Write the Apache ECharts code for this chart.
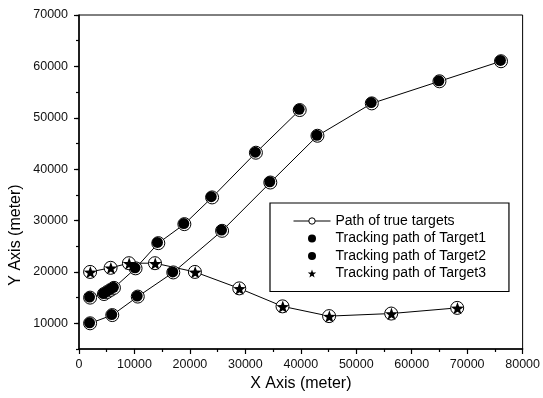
<!DOCTYPE html>
<html>
<head>
<meta charset="utf-8">
<script src="https://cdn.jsdelivr.net/npm/echarts@6/dist/echarts.min.js"></script>
<style>
html,body{margin:0;padding:0;background:#fff;}
#main{width:543px;height:398px;}
</style>
</head>
<body>
<div id="main"></div>
<script>
// ---- data ----
var xTicks = [0, 10000, 20000, 30000, 40000, 50000, 60000, 70000, 80000];
var yTicks = [10000, 20000, 30000, 40000, 50000, 60000, 70000];

// true target paths
var trueX1 = [2000, 4500, 5100, 5700, 6300, 10200, 14300, 19000, 24000, 31900, 39800];
var trueY1 = [15000, 15700, 16100, 16500, 16900, 20700, 25600, 29300, 34500, 43200, 51500];
var trueX2 = [2000, 6000, 10600, 17000, 25800, 34500, 43000, 52800, 65000, 76100];
var trueY2 = [10000, 11600, 15200, 19900, 28000, 37400, 46500, 52800, 57100, 61000];
var trueX3 = [2000, 5700, 9000, 13700, 20900, 28900, 36700, 45100, 56300, 68200];
var trueY3 = [20000, 20800, 21700, 21700, 20000, 16800, 13300, 11400, 11900, 13000];

// tracking estimates
var track1X = [1900, 4400, 5000, 5600, 6200, 10100, 14150, 18900, 23850, 31800, 39700];
var track1Y = [15100, 15800, 16200, 16600, 17000, 20800, 25750, 29400, 34650, 43300, 51650];
var track2X = [1900, 5900, 10500, 16900, 25700, 34400, 42900, 52700, 64900, 76000];
var track2Y = [10100, 11700, 15300, 20000, 28150, 37550, 46600, 52950, 57200, 61150];
var track3X = [2050, 5750, 9050, 13750, 20950, 28950, 36750, 45150, 56350, 68250];
var track3Y = [19950, 20750, 21650, 21650, 19950, 16750, 13250, 11350, 11850, 12950];

function pairs(xs, ys) { return xs.map(function (x, i) { return [x, ys[i]]; }); }
function plain(v) { return String(v); }

var FONT = '"Liberation Sans", Arial, sans-serif';
var STAR = 'path://M0,-10L2.35,-3.24L9.51,-3.09L3.8,1.24L5.88,8.09L0,4.2L-5.88,8.09L-3.8,1.24L-9.51,-3.09L-2.35,-3.24Z';

var chart = echarts.init(document.getElementById('main'), null, {renderer: 'canvas'});

function trueLine(xs, ys) {
  return {
    name: 'Path of true targets', type: 'line', data: pairs(xs, ys),
    symbol: 'circle', symbolSize: 13, showSymbol: true,
    lineStyle: {color: '#000', width: 1},
    itemStyle: {color: '#fff', borderColor: '#000', borderWidth: 1},
    emphasis: {disabled: true},
    z: 2, animation: false
  };
}

chart.setOption({
  animation: false,
  backgroundColor: '#fff',
  grid: {left: 79, right: 17, top: 15, bottom: 49, show: true, borderColor: '#000', borderWidth: 1, backgroundColor: 'transparent'},
  xAxis: {
    type: 'value', min: xTicks[0], max: xTicks[xTicks.length - 1], interval: 10000,
    name: 'X Axis (meter)', nameLocation: 'middle', nameGap: 26,
    nameTextStyle: {fontSize: 16, fontFamily: FONT, color: '#000'},
    axisLine: {show: true, lineStyle: {color: '#000', width: 1.5}},
    axisTick: {show: true, inside: false, length: 5, lineStyle: {color: '#000', width: 1.2}},
    minorTick: {show: true, splitNumber: 2, length: 3, lineStyle: {color: '#000', width: 1.2}},
    axisLabel: {fontSize: 12.5, fontFamily: FONT, color: '#111', margin: 9, formatter: plain},
    splitLine: {show: false}
  },
  yAxis: [{
    type: 'value', min: 5000, max: 70000, interval: 5000,
    axisLine: {show: true, lineStyle: {color: '#000', width: 1.5}},
    axisTick: {show: true, inside: false, length: 5, customValues: yTicks, lineStyle: {color: '#000', width: 1.2}},
    axisLabel: {fontSize: 12.5, fontFamily: FONT, color: '#111', margin: 11, customValues: yTicks, formatter: plain},
    splitLine: {show: false}
  }, {
    type: 'value', min: 5000, max: 70000, interval: 5000, position: 'left',
    axisLine: {show: false},
    axisTick: {show: true, inside: false, length: 3, lineStyle: {color: '#000', width: 1.2}},
    axisLabel: {show: false},
    splitLine: {show: false}
  }],
  legend: {
    orient: 'vertical', left: 270, top: 203,
    itemWidth: 37, itemHeight: 8, itemGap: 3.5,
    padding: [11, 23, 11, 23],
    borderColor: '#000', borderWidth: 1.2, backgroundColor: '#fff',
    lineStyle: {width: 1},
    itemStyle: {opacity: 1, borderWidth: 1},
    textStyle: {fontSize: 14, fontFamily: FONT, color: '#000'},
    data: ['Path of true targets', 'Tracking path of Target1', 'Tracking path of Target2', 'Tracking path of Target3']
  },
  graphic: [{
    type: 'text', x: 16, y: 235, rotation: Math.PI / 2,
    style: {text: 'Y Axis (meter)', font: '16px ' + FONT, fill: '#000', textAlign: 'center', textVerticalAlign: 'middle'}
  }],
  series: [
    trueLine(trueX1, trueY1),
    trueLine(trueX2, trueY2),
    trueLine(trueX3, trueY3),
    {name: 'Tracking path of Target1', type: 'scatter', data: pairs(track1X, track1Y),
      symbol: 'circle', symbolSize: 11, itemStyle: {color: '#000', opacity: 1, borderWidth: 0}, emphasis: {disabled: true}, z: 3},
    {name: 'Tracking path of Target2', type: 'scatter', data: pairs(track2X, track2Y),
      symbol: 'circle', symbolSize: 11, itemStyle: {color: '#000', opacity: 1, borderWidth: 0}, emphasis: {disabled: true}, z: 3},
    {name: 'Tracking path of Target3', type: 'scatter', data: pairs(track3X, track3Y),
      symbol: STAR, symbolKeepAspect: true, symbolSize: 13, itemStyle: {color: '#000', opacity: 1, borderWidth: 0}, emphasis: {disabled: true}, z: 3}
  ]
});
</script>
</body>
</html>
